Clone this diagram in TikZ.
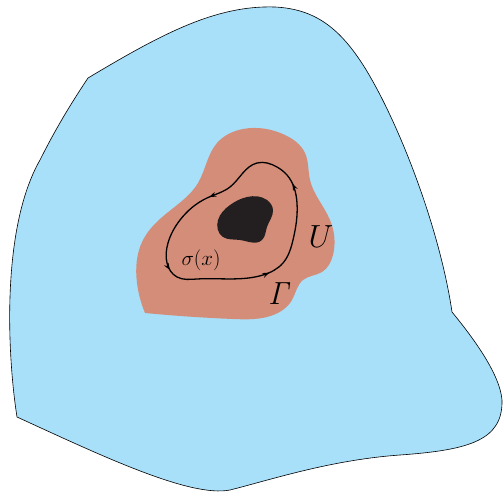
\RequirePackage{fix-cm}
\documentclass[tikz,border=0pt]{standalone}
\usetikzlibrary{arrows.meta,decorations.markings,hobby}

\definecolor{skyblue}{RGB}{168,223,249}
\definecolor{salmon}{RGB}{212,141,121}
\definecolor{hole}{RGB}{35,31,32}

\tikzset{
  region/.style={fill=skyblue,draw=black,line width=0.6pt},
  nbhd/.style={fill=salmon,draw=none},
  loopcurve/.style={line width=1.3pt,
    decoration={markings,
      mark=at position 0.15 with {\arrow{Stealth[length=7pt,width=5pt]}},
      mark=at position 0.38 with {\arrow{Stealth[length=7pt,width=5pt]}},
      mark=at position 0.64 with {\arrow{Stealth[length=7pt,width=5pt]}},
      mark=at position 0.89 with {\arrow{Stealth[length=7pt,width=5pt]}}},
    postaction={decorate}},
  biglabel/.style={font=\fontsize{32}{32}\selectfont},
  smalllabel/.style={font=\fontsize{21}{21}\selectfont}
}

\begin{document}
\begin{tikzpicture}[x=1pt,y=-1pt]
        \useasboundingbox (0,0) rectangle (503,492);

        % outer domain
        \draw[region] (88,78) .. controls (160,35) and (215,5) .. (275,7)
          .. controls (315,9) and (340,28) .. (365,68)
          .. controls (400,125) and (440,230) .. (452,312)
          .. controls (475,340) and (500,375) .. (502,400)
          .. controls (503,440) and (470,450) .. (400,455)
          .. controls (330,460) and (270,480) .. (230,490)
          .. controls (190,498) and (100,455) .. (17,417)
          .. controls (8,360) and (0,230) .. (40,160)
          .. controls (55,130) and (70,105) .. (88,78) -- cycle;

        % neighbourhood U
        \fill[nbhd,use Hobby shortcut] (145,313) .. (137,283) .. (143,240) .. (167,213) .. (198,183) .. (217,143)
          .. (243,129) .. (285,135) .. (305,153) .. (310,180) .. (330,220) .. (333,255)
          .. (322,272) .. (303,280) .. (292,300) .. (267,317) .. (233,319) .. (145,313);

        % hole
        \fill[hole,use Hobby shortcut,closed=true] (218,220) .. (230,205) .. (247,197) .. (267,200) .. (273,210)
          .. (267,227) .. (262,240) .. (240,240) .. (223,237);

        % closed curve Gamma
        \draw[loopcurve,use Hobby shortcut,closed=true] (257,163) .. (230,187) .. (207,198) .. (180,220) .. (168,243)
          .. (167,263) .. (177,277) .. (197,279) .. (263,275) .. (283,263) .. (293,240) .. (297,203) .. (287,175)
          .. (277,167);

        \node[smalllabel] (sigma) at (201,260) {$\sigma(x)$};
        \node[biglabel] (U) at (321,237) {$U$};
        \node[biglabel] (Gamma) at (280,294) {$\mathit{\Gamma}$};
    \end{tikzpicture}
\end{document}
